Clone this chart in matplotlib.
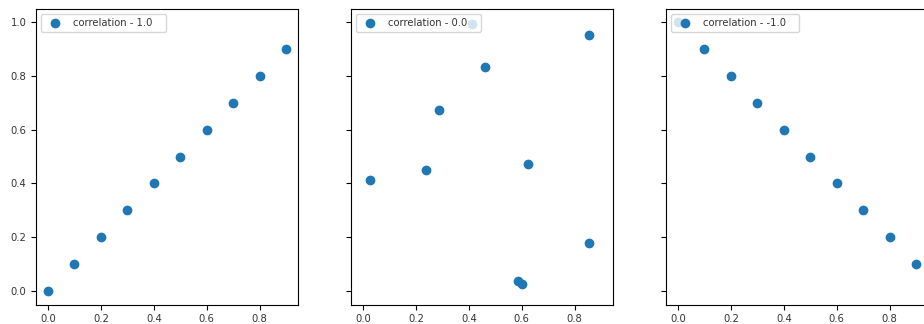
import matplotlib.pyplot as plt
import numpy as np

plt.rcParams['font.family'] = ['DejaVu Sans']
plt.rcParams['font.size'] = 7.2
plt.rcParams['text.color'] = '#333333'
plt.rcParams['xtick.labelcolor'] = '#333333'
plt.rcParams['ytick.labelcolor'] = '#333333'

# data
x_pos = [0.0, 0.1, 0.2, 0.3, 0.4, 0.5, 0.6, 0.7, 0.8, 0.9]
y_pos = [0.0, 0.1, 0.2, 0.3, 0.4, 0.5, 0.6, 0.7, 0.8, 0.9]

x_zero = [0.026, 0.24, 0.286, 0.414, 0.462, 0.853, 0.624, 0.853, 0.586, 0.60]
y_zero = [0.413, 0.45, 0.673, 0.993, 0.833, 0.952, 0.472, 0.178, 0.037, 0.026]

x_neg = [0.0, 0.1, 0.2, 0.3, 0.4, 0.5, 0.6, 0.7, 0.8, 0.9]
y_neg = [1.0, 0.9, 0.8, 0.7, 0.6, 0.5, 0.4, 0.3, 0.2, 0.1]

labels = ['correlation - 1.0', 'correlation - 0.0', 'correlation - -1.0']

fig = plt.figure(figsize=(9.24, 3.24), dpi=100)
W, H = 924, 324
lefts = [36, 351, 666]
ax_w, bottom, top = 262, 304.5, 8.5

axes = []
for i, l in enumerate(lefts):
    kw = {}
    if axes:
        kw = dict(sharex=axes[0], sharey=axes[0])
    ax = fig.add_axes([l / W, (H - bottom) / H, ax_w / W, (bottom - top) / H], **kw)
    axes.append(ax)

data = [(x_pos, y_pos), (x_zero, y_zero), (x_neg, y_neg)]
for ax, (x, y), lab in zip(axes, data, labels):
    # trailing spaces widen the legend box like in the reference
    ax.scatter(x, y, color='#1f77b4', s=36, label=lab + '   ')
    ax.legend(loc='upper left')
    ax.set_xticks([0.0, 0.2, 0.4, 0.6, 0.8])
    ax.set_yticks([0.0, 0.2, 0.4, 0.6, 0.8, 1.0])

for ax in axes[1:]:
    ax.tick_params(labelleft=False)

fig.savefig('out.png', dpi=100)
